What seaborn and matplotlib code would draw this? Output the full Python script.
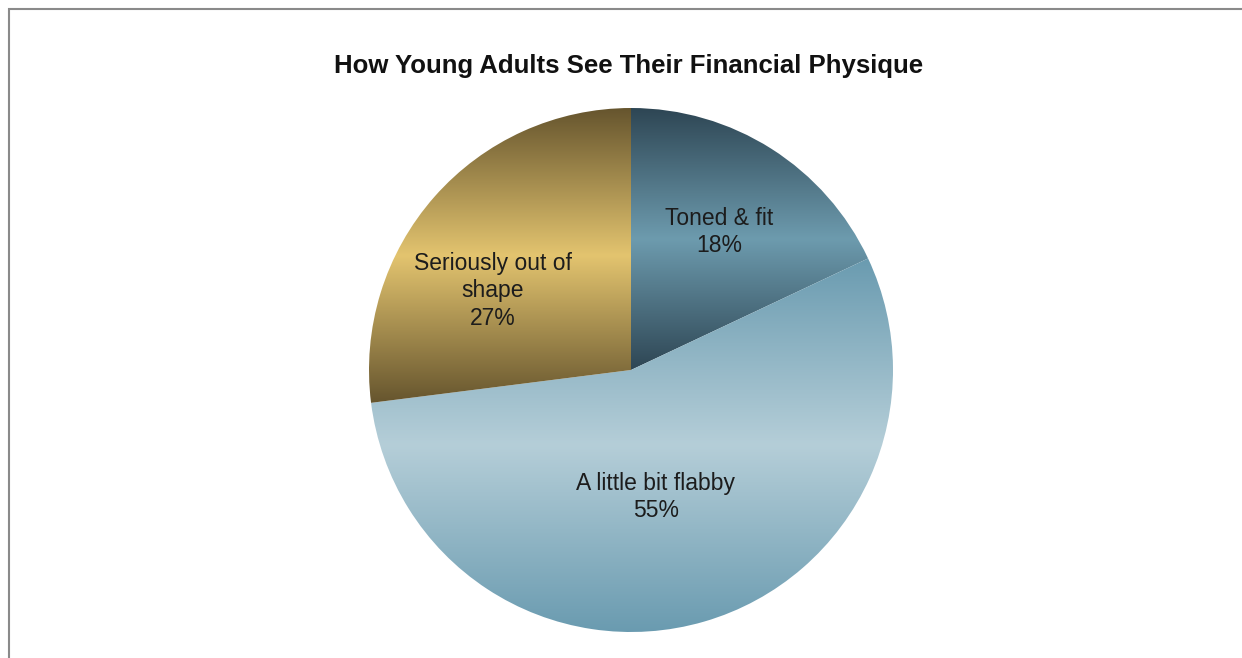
import matplotlib
matplotlib.use("Agg")
import matplotlib.pyplot as plt
from matplotlib.patches import Rectangle
import numpy as np
import seaborn as sns

# Data
categories = ["Toned & fit", "A little bit flabby", "Seriously out of\nshape"]
shares = [18, 55, 27]

# Gradient colours per slice: (edge, middle)
slice_colors = [("#2e4654", "#6d9bae"), ("#6a9bb0", "#b5ced8"), ("#66552e", "#e3c46f")]
# label anchors in pie coordinates
label_pos = [(0.336, 0.527), (0.095, -0.485), (-0.527, 0.302)]

sns.set_theme(style="white")
plt.rcParams["font.family"] = ["Liberation Sans", "DejaVu Sans"]

W, H = 1242, 658
fig = plt.figure(figsize=(W / 100, H / 100), dpi=100)
fig.patch.set_facecolor("white")

cx, cy, r = 631, 370, 262
ax = fig.add_axes([(cx - r) / W, (H - cy - r) / H, 2 * r / W, 2 * r / H])

wedges, _ = ax.pie(shares, startangle=90, counterclock=False, radius=1,
                   colors=["none"] * len(shares),
                   wedgeprops=dict(linewidth=0))

for w, (edge, mid) in zip(wedges, slice_colors):
    ext = w.get_path().get_extents()
    cmap = sns.blend_palette([edge, mid, edge], 256, as_cmap=True)
    grad = np.linspace(0, 1, 256).reshape(-1, 1)
    im = ax.imshow(grad, cmap=cmap, aspect="auto", origin="upper",
                   extent=[ext.x0, ext.x1, ext.y0, ext.y1], zorder=1,
                   interpolation="bilinear")
    im.set_clip_path(w)

for (x, y), lab, v in zip(label_pos, categories, shares):
    ax.text(x, y, f"{lab}\n{v}%", ha="center", va="center", fontsize=16.5,
            color="#1c1c1c", linespacing=1.25, zorder=3)

ax.set_xlim(-1, 1)
ax.set_ylim(-1, 1)
ax.set_aspect("equal")
ax.axis("off")

fig.text(629 / W, (H - 66) / H, "How Young Adults See Their Financial Physique",
         ha="center", va="center", fontsize=18.5, fontweight="bold", color="#111111")

# chart frame (cut off at right/bottom)
fig.add_artist(Rectangle((8.5 / W, -0.1), 1.2, (H - 9.5) / H + 0.1,
                         transform=fig.transFigure, fill=False,
                         edgecolor="#8a8a8a", linewidth=1.5))

fig.savefig("out.png", dpi=100)
